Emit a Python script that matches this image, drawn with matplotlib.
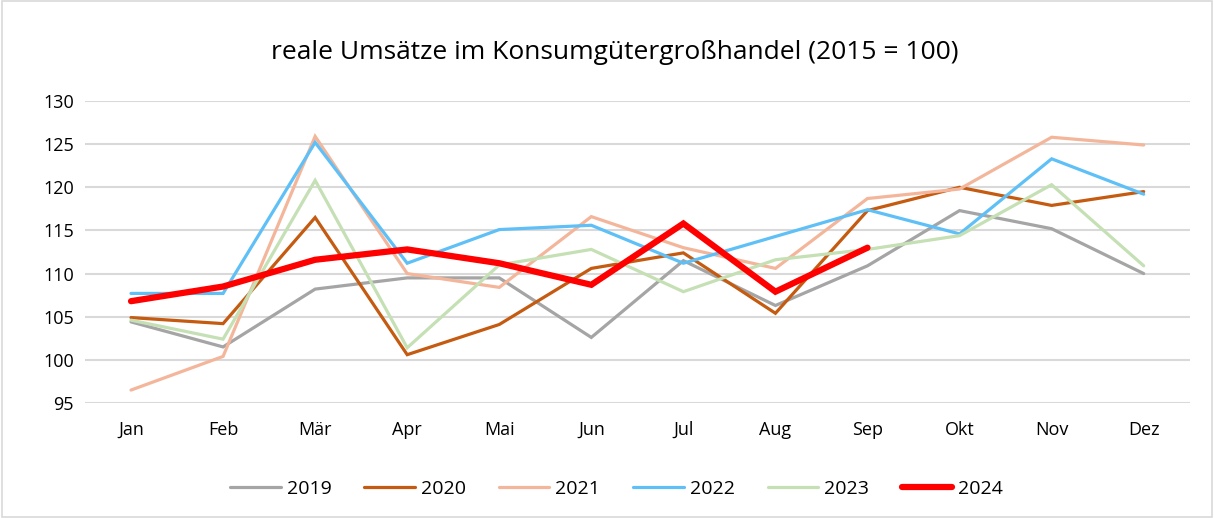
import matplotlib.pyplot as plt
from matplotlib.patches import Rectangle

months = ["Jan", "Feb", "Mär", "Apr", "Mai", "Jun", "Jul", "Aug", "Sep", "Okt", "Nov", "Dez"]

y2019 = [104.4, 101.5, 108.2, 109.5, 109.5, 102.6, 111.5, 106.3, 110.9, 117.3, 115.2, 110.0]
y2020 = [104.9, 104.2, 116.5, 100.6, 104.1, 110.6, 112.4, 105.4, 117.3, 120.0, 117.9, 119.5]
y2021 = [96.5, 100.4, 125.9, 110.0, 108.4, 116.6, 113.0, 110.6, 118.7, 119.8, 125.8, 124.9]
y2022 = [107.7, 107.7, 125.2, 111.2, 115.1, 115.6, 111.2, 114.3, 117.4, 114.6, 123.3, 119.2]
y2023 = [104.6, 102.4, 120.8, 101.4, 111.0, 112.8, 107.9, 111.6, 112.8, 114.4, 120.3, 110.9]
y2024 = [106.8, 108.5, 111.6, 112.8, 111.2, 108.7, 115.8, 107.9, 113.0]

series = [
    ("2019", y2019, "#A5A5A5", 2.3),
    ("2020", y2020, "#C55A11", 2.3),
    ("2021", y2021, "#F4B69B", 2.3),
    ("2022", y2022, "#5EC0F7", 2.3),
    ("2023", y2023, "#C5E0B4", 2.3),
    ("2024", y2024, "#FF0000", 4.5),
]

plt.rcParams['font.family'] = ['Open Sans', 'DejaVu Sans']

fig = plt.figure(figsize=(12.14, 5.18), dpi=100)
fig.patches.append(Rectangle((0.002, 0.002), 0.996, 0.996, transform=fig.transFigure,
                             fill=False, edgecolor="#D9D9D9", linewidth=1.2))
ax = fig.add_axes([0.070, 0.222, 0.910, 0.583])

for name, vals, color, lw in series:
    ax.plot(range(len(vals)), vals, color=color, linewidth=lw, label=name,
            solid_capstyle="round", solid_joinstyle="miter")

ax.set_xlim(-0.5, 11.5)
ax.set_ylim(95, 130)
ax.set_yticks(range(95, 131, 5))
ax.set_xticks(range(12))
ax.set_xticklabels(months)
ax.tick_params(length=0, labelsize=13, colors="#000000")
ax.tick_params(axis="x", pad=13)
ax.tick_params(axis="y", pad=8)
ax.grid(axis="y", color="#D9D9D9", linewidth=1.5)
ax.set_axisbelow(True)
for s in ax.spines.values():
    s.set_visible(False)

fig.text(0.506, 0.898, "reale Umsätze im Konsumgütergroßhandel (2015 = 100)",
         ha="center", va="center", fontsize=19)

fig.legend(loc="center", bbox_to_anchor=(0.508, 0.056), ncol=6, frameon=False,
           fontsize=14, handlelength=2.6, columnspacing=1.7, handletextpad=0.3)

fig.savefig("out.png", dpi=100)
